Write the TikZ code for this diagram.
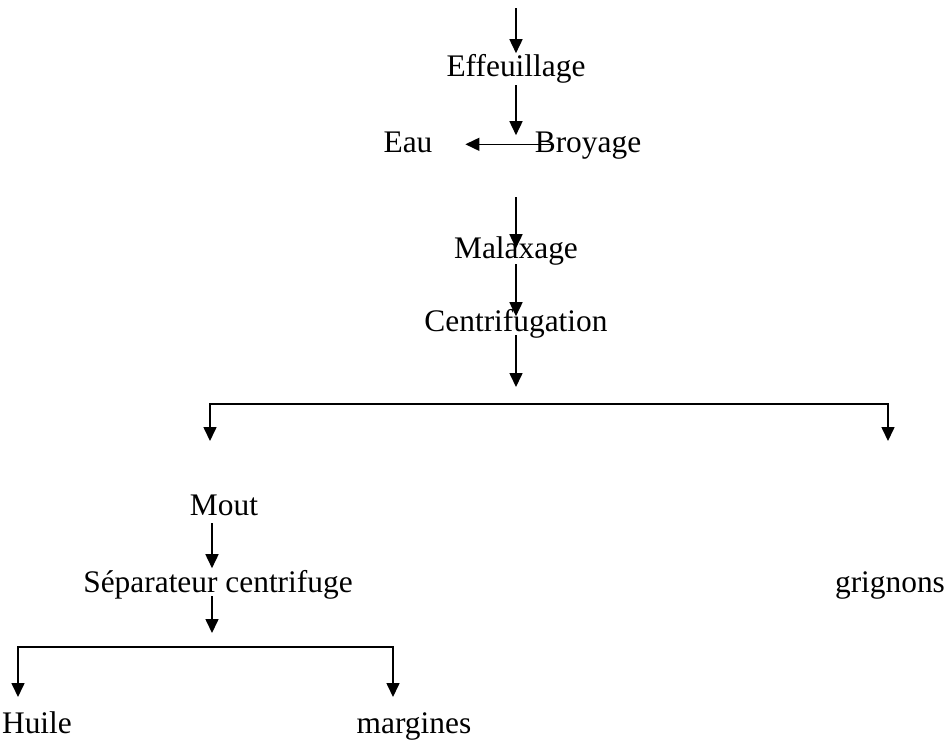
\documentclass[tikz,border=0pt]{standalone}
\usepackage{fontspec}
\setmainfont{Liberation Serif}
\usetikzlibrary{arrows.meta, positioning, calc}

\begin{document}
\begin{tikzpicture}[
	x=0.5pt, y=-0.5pt,
	every node/.style={font=\fontsize{15.7}{19}\selectfont},
	stage/.style={anchor=base, inner sep=0pt, outer sep=0pt, text height=0.69em, text depth=0.22em},
	arrow/.style={-{Triangle[length=7pt, width=6.5pt]}, line width=0.8pt, shorten <=2pt},
	fork/.style={{Triangle[length=7pt, width=6.5pt]}-{Triangle[length=7pt, width=6.5pt]}, line width=0.8pt}
	]
	\useasboundingbox (0,0) rectangle (949,746);
	
	% === MAIN LINE ===
	\coordinate (start) at (516,8);
	\node[stage] (effeuillage) at (516,76) {Effeuillage};
	\node[stage] (eau) at (408,152) {Eau};
	\node[stage] (broyage) at (588,152) {Broyage};
	\node[stage] (malaxage) at (516,258) {Malaxage};
	\node[stage] (centrifugation) at (516,331) {Centrifugation};
	\coordinate (split) at (516,387);
	
	\draw[arrow, shorten <=0pt, shorten >=4.5pt] (start) -- (effeuillage);
	\draw[arrow, shorten <=2.5pt, shorten >=1.5pt] (effeuillage) -- (effeuillage |- broyage.north);
	\draw[arrow, shorten <=0pt] ([xshift=8.5pt, yshift=1.5pt]broyage.west) -- ([xshift=16.5pt, yshift=1.5pt]eau.east);
	\draw[arrow, shorten <=20.5pt, shorten >=-2pt] (malaxage.north |- broyage.south) -- (malaxage.north);
	\draw[arrow, shorten <=1pt, shorten >=0.5pt] (malaxage) -- (centrifugation);
	\draw[arrow, shorten <=0pt] (centrifugation) -- (split);
	
	% === FIRST SPLIT ===
	\coordinate (moutin) at (210,441);
	\coordinate (grignonsin) at (888,441);
	\draw[fork] (moutin) -- ++(0,-37) -| (grignonsin);
	
	\node[stage] (mout) at (224,515) {Mout};
	\node[stage] (separateur) at (218,592) {Séparateur centrifuge};
	\node[stage] (grignons) at (890,592) {grignons};
	\coordinate (split2) at (212,633);
	
	\draw[arrow, shorten >=5pt] ([xshift=-6pt]mout.south) -- ([xshift=-3pt]separateur.north);
	\draw[arrow, shorten <=0pt] ([xshift=-3pt]separateur.south) -- (split2);
	
	% === SECOND SPLIT ===
	\coordinate (huilein) at (18,697);
	\coordinate (marginesin) at (393,697);
	\draw[fork] (huilein) -- ++(0,-50) -| (marginesin);
	
	\node[stage] (huile) at (37,733) {Huile};
	\node[stage] (margines) at (414,733) {margines};
	
\end{tikzpicture}
\end{document}
